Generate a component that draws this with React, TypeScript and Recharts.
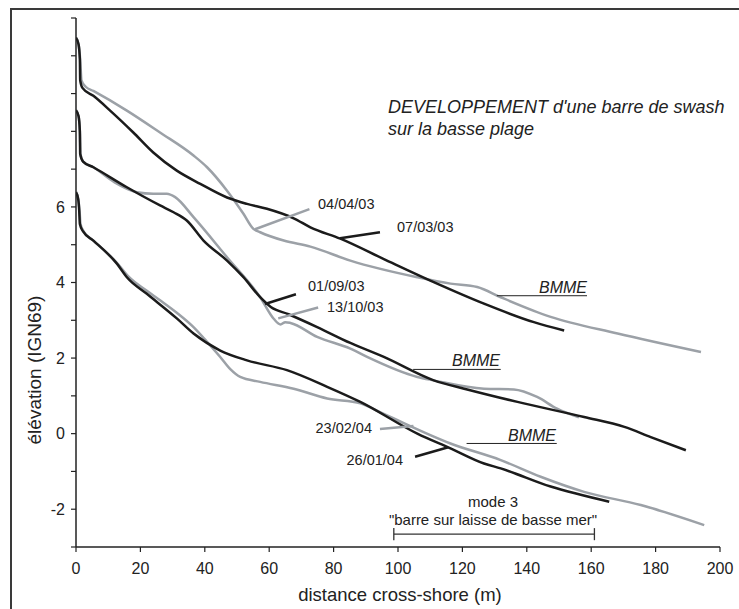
import { LineChart, Line, XAxis, YAxis, ReferenceLine } from "recharts";

// profils de plage, distance cross-shore (m) / élévation (IGN69)
const p070303 = [
  [0, 10.48], [0.8, 10.3], [1.2, 9.9], [1.3, 9.35], [2.0, 9.15], [5.4, 8.94],
  [10.6, 8.55], [17.8, 7.97], [24.0, 7.44], [31.3, 6.96], [38.6, 6.61],
  [46.9, 6.25], [53.1, 6.08], [59.3, 5.95], [67.6, 5.7], [72.8, 5.46],
  [82.1, 5.16], [95.6, 4.62], [111.1, 4.01], [126.7, 3.44], [142.2, 2.95],
  [151.6, 2.73],
];
const p040403 = [
  [0, 10.48], [0.8, 10.3], [1.3, 9.9], [1.7, 9.35], [3, 9.18], [5.4, 9.07],
  [15.8, 8.55], [26.1, 7.97], [36.5, 7.36], [40.7, 7.05], [46.9, 6.43],
  [52.0, 5.82], [55.1, 5.42], [57.2, 5.33], [64.5, 5.11], [72.8, 4.95],
  [85.2, 4.58], [106, 4.14], [116.3, 3.97], [124.6, 3.88], [131.9, 3.61],
  [147.4, 3.09], [168.2, 2.65], [194.1, 2.16],
];
const p010903 = [
  [0, 8.56], [0.8, 8.4], [1.2, 8.0], [1.3, 7.4], [2.2, 7.2], [5.4, 7.05],
  [15.8, 6.52], [26.1, 6.04], [30.3, 5.86], [34.4, 5.64], [39.6, 5.11],
  [46.9, 4.58], [52.0, 4.14], [57.2, 3.61], [60.5, 3.35], [66, 3.16],
  [74.9, 2.82], [85.2, 2.4], [95.6, 2.03], [111.1, 1.41], [121.5, 1.17],
  [137.1, 0.84], [157.8, 0.44], [170.3, 0.18], [178.5, -0.09], [189.4, -0.44],
];
const p131003 = [
  [0, 8.56], [0.8, 8.4], [1.2, 8.0], [1.4, 7.4], [2.2, 7.2], [5.4, 7.05],
  [12, 6.65], [18.9, 6.39], [24, 6.35], [28.2, 6.35], [30.8, 6.26],
  [36.5, 5.73], [46.9, 4.67], [57.2, 3.61], [61.4, 3.04], [63.5, 2.89],
  [65, 2.95], [66.6, 2.93], [74.9, 2.56], [85.2, 2.25], [90.4, 2.03],
  [106, 1.5], [111.1, 1.41], [126.7, 1.19], [136, 1.17], [143.2, 0.97],
  [149.4, 0.66], [156.2, 0.43],
];
const p260104 = [
  [0, 6.39], [0.7, 6.2], [1.0, 5.9], [1.2, 5.55], [2.2, 5.35], [5.4, 5.11],
  [12.7, 4.5], [15.8, 4.14], [22.0, 3.7], [31.3, 3.05], [36.5, 2.65],
  [44.8, 2.2], [53.1, 1.94], [65.5, 1.68], [78, 1.24], [88.3, 0.84],
  [106, 0.0], [116.3, -0.39], [126.7, -0.79], [131.9, -0.92], [147.4, -1.4],
  [165.6, -1.8],
];
const p230204 = [
  [0, 6.39], [0.7, 6.2], [1.1, 5.9], [1.4, 5.55], [2.4, 5.35], [5.4, 5.11],
  [12.7, 4.52], [16.5, 4.14], [22.0, 3.78], [26.1, 3.53], [31.3, 3.2],
  [36.5, 2.82], [40.5, 2.45], [44.8, 2.03], [48, 1.7], [51, 1.5],
  [57.2, 1.37], [67.6, 1.19], [78, 0.93], [88.3, 0.8], [95.6, 0.52],
  [116.3, -0.26], [131.9, -0.7], [144.3, -1.14], [157.8, -1.54],
  [175.4, -1.89], [195.1, -2.42],
];

const xTicks = [0, 20, 40, 60, 80, 100, 120, 140, 160, 180, 200];
const yTicks = [-3, -2, -1, 0, 1, 2, 3, 4, 5, 6, 7, 8, 9, 10, 11];
const yLabelled = [-2, 0, 2, 4, 6];

const toPts = (arr: number[][]) => arr.map(([x, y]) => ({ x, y }));

const BLACK = "#1b1b1b";
const GRAY = "#9ca1a7";

const seg = (x1: number, y1: number, x2: number, y2: number) => [
  { x: x1, y: y1 },
  { x: x2, y: y2 },
];

export default function App() {
  return (
    <div
      style={{
        position: "absolute",
        left: 0,
        top: 0,
        width: 739,
        height: 609,
        overflow: "hidden",
        background: "#fff",
        fontFamily: "'Liberation Sans', Arial, sans-serif",
      }}
    >
      <div
        style={{
          position: "absolute",
          left: 10,
          top: 8,
          width: 800,
          height: 700,
          border: "2px solid #3a3a3a",
        }}
      />
      <div style={{ position: "absolute", left: 0, top: 0 }}>
        <LineChart
          width={739}
          height={609}
          margin={{ top: 18, right: 19, bottom: 0, left: 0 }}
        >
          <XAxis
            dataKey="x"
            type="number"
            domain={[0, 200]}
            ticks={xTicks}
            interval={0}
            height={62}
            tickSize={5}
            tickMargin={11}
            axisLine={{ stroke: "#222", strokeWidth: 1.5 }}
            tickLine={{ stroke: "#222", strokeWidth: 1.2 }}
            tick={{ fill: "#222", fontSize: 16 }}
            allowDataOverflow
          />
          <YAxis
            type="number"
            domain={[-3, 11]}
            ticks={yTicks}
            interval={0}
            width={76}
            tickSize={5}
            tickMargin={6}
            tickFormatter={(v: number) => (yLabelled.includes(v) ? String(v) : "")}
            axisLine={{ stroke: "#222", strokeWidth: 1.5 }}
            tickLine={{ stroke: "#222", strokeWidth: 1.2 }}
            tick={{ fill: "#222", fontSize: 16 }}
            allowDataOverflow
          />

          <Line data={toPts(p040403)} dataKey="y" type="monotone" stroke={GRAY} strokeWidth={2.5} dot={false} isAnimationActive={false} />
          <Line data={toPts(p131003)} dataKey="y" type="monotone" stroke={GRAY} strokeWidth={2.5} dot={false} isAnimationActive={false} />
          <Line data={toPts(p230204)} dataKey="y" type="monotone" stroke={GRAY} strokeWidth={2.5} dot={false} isAnimationActive={false} />
          <Line data={toPts(p070303)} dataKey="y" type="monotone" stroke={BLACK} strokeWidth={2.5} dot={false} isAnimationActive={false} />
          <Line data={toPts(p010903)} dataKey="y" type="monotone" stroke={BLACK} strokeWidth={2.5} dot={false} isAnimationActive={false} />
          <Line data={toPts(p260104)} dataKey="y" type="monotone" stroke={BLACK} strokeWidth={2.5} dot={false} isAnimationActive={false} />

          {/* traits de rappel */}
          <ReferenceLine segment={seg(55.6, 5.41, 72.5, 5.94)} stroke={GRAY} strokeWidth={2.5} ifOverflow="visible" />
          <ReferenceLine segment={seg(82.0, 5.17, 94.4, 5.33)} stroke={BLACK} strokeWidth={2.5} ifOverflow="visible" />
          <ReferenceLine segment={seg(58.7, 3.43, 68.3, 3.69)} stroke={BLACK} strokeWidth={2.5} ifOverflow="visible" />
          <ReferenceLine segment={seg(62.8, 3.05, 75.2, 3.34)} stroke={GRAY} strokeWidth={2.5} ifOverflow="visible" />
          <ReferenceLine segment={seg(94.4, 0.12, 104.8, 0.2)} stroke={GRAY} strokeWidth={2.5} ifOverflow="visible" />
          <ReferenceLine segment={seg(105.3, -0.61, 115.6, -0.36)} stroke={BLACK} strokeWidth={2.5} ifOverflow="visible" />

          {/* BMME */}
          <ReferenceLine segment={seg(130.7, 3.65, 158.7, 3.65)} stroke="#222" strokeWidth={1} ifOverflow="visible" />
          <ReferenceLine segment={seg(104.7, 1.7, 131.9, 1.7)} stroke="#222" strokeWidth={1} ifOverflow="visible" />
          <ReferenceLine segment={seg(121.3, -0.26, 149.3, -0.26)} stroke="#222" strokeWidth={1} ifOverflow="visible" />

          {/* mode 3 */}
          <ReferenceLine segment={seg(98.7, -2.66, 161, -2.66)} stroke="#333" strokeWidth={1.3} ifOverflow="visible" />
          <ReferenceLine segment={seg(98.7, -2.5, 98.7, -2.82)} stroke="#333" strokeWidth={1.3} ifOverflow="visible" />
          <ReferenceLine segment={seg(161, -2.5, 161, -2.82)} stroke="#333" strokeWidth={1.3} ifOverflow="visible" />
        </LineChart>
      </div>

      <svg
        width={739}
        height={609}
        style={{ position: "absolute", left: 0, top: 0, pointerEvents: "none" }}
        fontFamily="'Liberation Sans', Arial, sans-serif"
        fill="#222"
      >
        <text x={388} y={113} fontSize={18} fontStyle="italic">
          DEVELOPPEMENT d'une barre de swash
        </text>
        <text x={388} y={135} fontSize={18} fontStyle="italic">
          sur la basse plage
        </text>

        <text x={318} y={204} dy="0.35em" fontSize={14.5}>04/04/03</text>
        <text x={397} y={227} dy="0.35em" fontSize={14.5}>07/03/03</text>
        <text x={308} y={286} dy="0.35em" fontSize={14.5}>01/09/03</text>
        <text x={327} y={307} dy="0.35em" fontSize={14.5}>13/10/03</text>
        <text x={372} y={428} dy="0.35em" fontSize={14.5} textAnchor="end">23/02/04</text>
        <text x={403} y={460} dy="0.35em" fontSize={14.5} textAnchor="end">26/01/04</text>

        <text x={587} y={287} dy="0.35em" fontSize={16} fontStyle="italic" textAnchor="end">BMME</text>
        <text x={500} y={360} dy="0.35em" fontSize={16} fontStyle="italic" textAnchor="end">BMME</text>
        <text x={556} y={435} dy="0.35em" fontSize={16} fontStyle="italic" textAnchor="end">BMME</text>

        <text x={493} y={502} dy="0.35em" fontSize={15} textAnchor="middle">mode 3</text>
        <text x={493} y={520} dy="0.35em" fontSize={15} textAnchor="middle">"barre sur laisse de basse mer"</text>

        <text x={400} y={595} dy="0.35em" fontSize={18.5} textAnchor="middle">
          distance cross-shore (m)
        </text>
        <text
          x={34}
          y={370}
          dy="0.35em"
          fontSize={19}
          textAnchor="middle"
          transform="rotate(-90 34 370)"
        >
          élévation (IGN69)
        </text>
      </svg>
    </div>
  );
}
